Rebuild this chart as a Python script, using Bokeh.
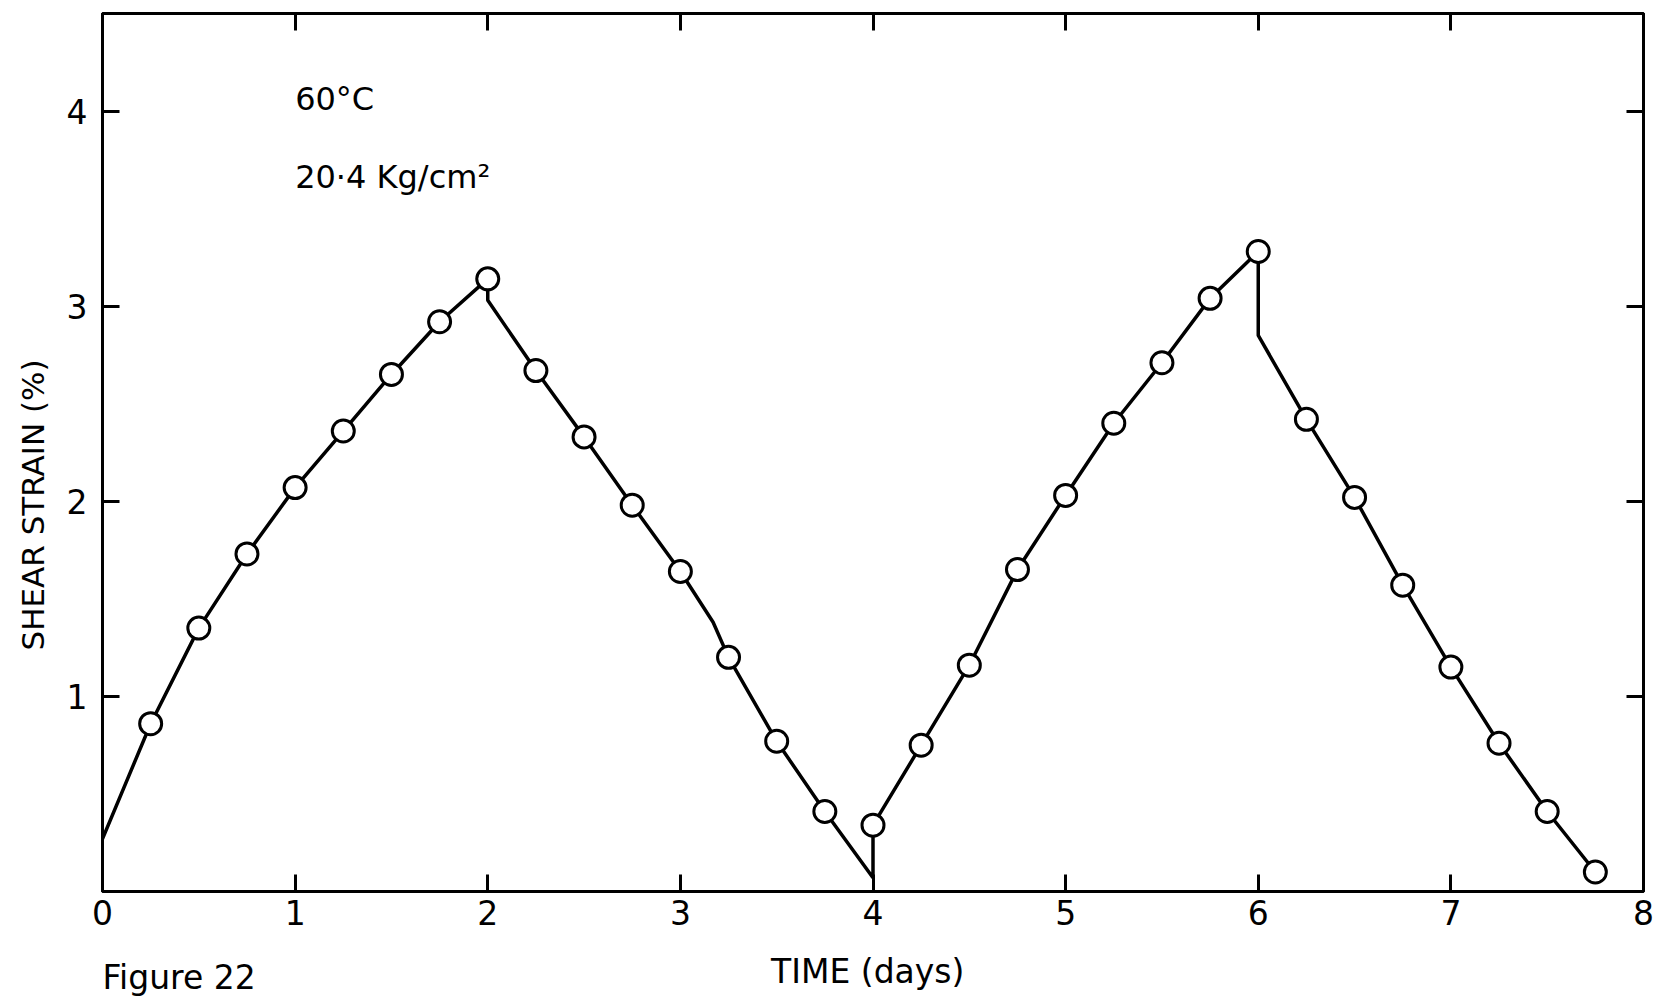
import math
from bokeh.plotting import figure
from bokeh.layouts import column
from bokeh.models import Range1d, LinearAxis, FixedTicker, Label, Title
from bokeh.core.properties import value
from bokeh.embed import file_html
from bokeh.resources import INLINE

# measured points (time in days, shear strain in %)
time_days = [0.25, 0.5, 0.75, 1.0, 1.25, 1.5, 1.75, 2.0, 2.25, 2.5, 2.75, 3.0, 3.25, 3.5, 3.75,
             4.0, 4.25, 4.5, 4.75, 5.0, 5.25, 5.5, 5.75, 6.0,
             6.25, 6.5, 6.75, 7.0, 7.25, 7.5, 7.75]
strain_pct = [0.86, 1.35, 1.73, 2.07, 2.36, 2.65, 2.92, 3.14, 2.67, 2.33, 1.98, 1.64, 1.20, 0.77, 0.41,
              0.34, 0.75, 1.16, 1.65, 2.03, 2.40, 2.71, 3.04, 3.28,
              2.42, 2.02, 1.57, 1.15, 0.76, 0.41, 0.10]

# drawn curve (includes the instantaneous jumps at load reversals)
curve_time = [0.0, 0.25, 0.5, 0.75, 1.0, 1.25, 1.5, 1.75, 2.0, 2.0, 2.25, 2.5, 2.75, 3.0, 3.17, 3.25, 3.5, 3.75,
              4.0, 4.0, 4.25, 4.5, 4.75, 5.0, 5.25, 5.5, 5.75, 6.0, 6.0,
              6.25, 6.5, 6.75, 7.0, 7.25, 7.5, 7.75]
curve_strain = [0.27, 0.86, 1.35, 1.73, 2.07, 2.36, 2.65, 2.92, 3.14, 3.03, 2.67, 2.33, 1.98, 1.64, 1.38, 1.20, 0.77, 0.41,
                0.07, 0.34, 0.75, 1.16, 1.65, 2.03, 2.40, 2.71, 3.04, 3.28, 2.85,
                2.42, 2.02, 1.57, 1.15, 0.76, 0.41, 0.10]

x_ticks = [0, 1, 2, 3, 4, 5, 6, 7, 8]
y_ticks = [1, 2, 3, 4]

x_label = "TIME  (days)"
y_label = "SHEAR STRAIN (%)"
fig_caption = "Figure 22"
notes = ["60°C", "20·4  Kg/cm²"]

FONT = "DejaVu Sans"
TICK_FS = "33px"
NOTE_FS = "32px"
YLABEL_FS = "31px"
CAP_FS = "33px"

W = 1656
H_MAIN = 942
H_CAP = 54

p = figure(width=W, height=H_MAIN, x_range=Range1d(0, 8), y_range=Range1d(0, 4.5),
           x_axis_type=None, y_axis_type=None, output_backend="svg", toolbar_location=None,
           min_border_left=102, min_border_right=13, min_border_top=13, min_border_bottom=H_MAIN - 891)
p.grid.visible = False
p.outline_line_color = "black"
p.outline_line_width = 3
p.background_fill_color = "white"
p.border_fill_color = "white"

def style_axis(ax, show_labels):
    ax.axis_line_width = 3
    ax.axis_line_color = "black"
    ax.major_tick_in = 17
    ax.major_tick_out = 0
    ax.major_tick_line_width = 3
    ax.minor_tick_line_color = None
    ax.major_label_text_font = FONT
    ax.major_label_text_color = "black"
    if show_labels:
        ax.major_label_text_font_size = TICK_FS
    else:
        ax.major_label_text_font_size = "0px"
        ax.major_label_text_color = None

xb = LinearAxis(ticker=FixedTicker(ticks=x_ticks))
style_axis(xb, True)
xb.major_label_standoff = 8
p.add_layout(xb, "below")

yl = LinearAxis(ticker=FixedTicker(ticks=y_ticks))
style_axis(yl, True)
yl.major_label_standoff = 15
p.add_layout(yl, "left")

xt = LinearAxis(ticker=FixedTicker(ticks=x_ticks))
style_axis(xt, False)
p.add_layout(xt, "above")

yr = LinearAxis(ticker=FixedTicker(ticks=y_ticks))
style_axis(yr, False)
p.add_layout(yr, "right")

p.add_layout(Title(text=y_label, align="left", offset=241, standoff=25,
                   text_font=FONT, text_font_size=YLABEL_FS, text_font_style="normal",
                   text_color="black"), "left")

p.line(curve_time, curve_strain, line_color="black", line_width=3.5)
p.scatter(time_days, strain_pct, marker="circle", size=22, fill_color="white",
          line_color="black", line_width=3)

p.add_layout(Label(x=1.0, y=4.06, text=notes[0], text_font=FONT, text_font_size=NOTE_FS,
                   text_color="black", text_baseline="middle", text_align="left"))
p.add_layout(Label(x=1.0, y=3.66, text=notes[1], text_font=FONT, text_font_size=NOTE_FS,
                   text_color="black", text_baseline="middle", text_align="left"))

# caption strip below the chart: x-axis title and figure number side by side
cap = figure(width=W, height=H_CAP, x_range=p.x_range, y_range=Range1d(0, 1),
             x_axis_type=None, y_axis_type=None, output_backend="svg", toolbar_location=None,
             min_border_left=102, min_border_right=13, min_border_top=0, min_border_bottom=0)
cap.grid.visible = False
cap.outline_line_color = None
cap.background_fill_color = "white"
cap.border_fill_color = "white"
cap.text(x=[4.0], y=[0.46], text=[x_label], text_font=value(FONT), text_font_size=CAP_FS,
         text_color="black", text_align="center", text_baseline="middle")
cap.text(x=[0.0], y=[0.36], text=[fig_caption], text_font=value(FONT), text_font_size=CAP_FS,
         text_color="black", text_align="left", text_baseline="middle")

layout = column(p, cap, spacing=0)
open("out.html", "w").write(file_html(layout, INLINE))
